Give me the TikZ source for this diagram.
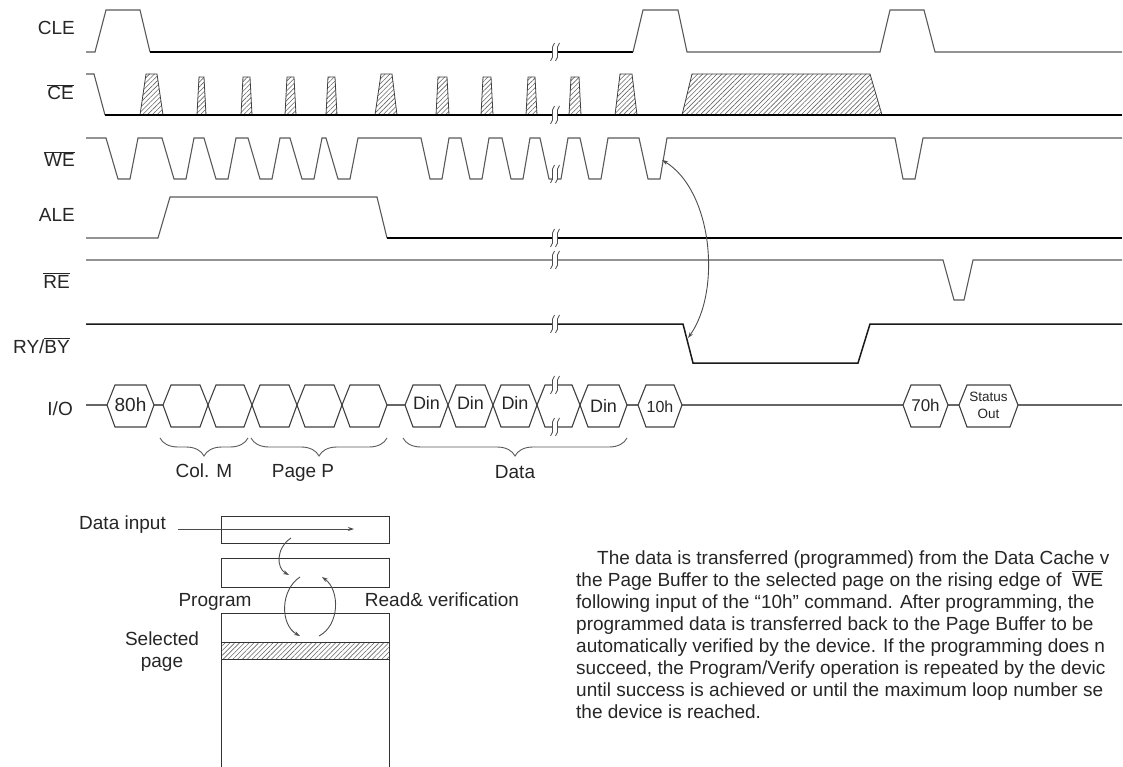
\documentclass[tikz,border=0pt]{standalone}
\usepackage{fontspec}
\setmainfont{Liberation Sans}
\usetikzlibrary{patterns.meta,decorations.pathreplacing,arrows.meta}
\newcommand\ovl[1]{$\overline{\mbox{#1}}$}
\tikzset{
  sig/.style={line width=1.1pt, draw=black!65},
  sigthick/.style={line width=1.9pt, draw=black},
  sigmid/.style={line width=1.5pt, draw=black!90},
  hatch/.style={draw=black!75, line width=0.8pt, pattern={Lines[angle=45,distance=3.4pt,line width=0.6pt]}, pattern color=black!60},
  bus/.style={draw=black!75, line width=1.1pt},
  busline/.style={draw=black!60, line width=1.1pt},
  lab/.style={font=\fontsize{19}{22}\selectfont, inner sep=0pt, text=black!85},
  par/.style={font=\fontsize{19}{22}\selectfont, inner sep=0pt, text=black!85, anchor=base west},
  hext/.style={inner sep=0pt, text=black!85},
  brc/.style={draw=black!65, line width=0.9pt, decorate, decoration={brace, mirror, amplitude=18pt}},
  conn/.style={draw=black!70, line width=0.9pt, -{Stealth[length=6pt,width=4pt]}},
  box/.style={draw=black!80, line width=1pt},
  brk/.pic={
    \fill[white] (-0.5,-9) .. controls (-5.5,-5) and (0.5,5) .. (-4.5,9) -- (0.5,9) .. controls (5.5,5) and (-0.5,-5) .. (4.5,-9) -- cycle;
    \draw[black!70, line width=0.8pt] (-0.5,-9) .. controls (-5.5,-5) and (0.5,5) .. (-4.5,9);
    \draw[black!70, line width=0.8pt] (4.5,-9) .. controls (-0.5,-5) and (5.5,5) .. (0.5,9);
  }
}
\newcommand\hexa[2]{\draw[bus] (#1,405) -- ({#1+8},385) -- ({#2-8},385) -- (#2,405) -- ({#2-8},427) -- ({#1+8},427) -- cycle;}
\begin{document}
\begin{tikzpicture}[x=1pt,y=-1pt]
\useasboundingbox (0,0) rectangle (1123,767);
% ---- labels
\node[lab, anchor=base east] (lCLE) at (75,35) {CLE};
\node[lab, anchor=base east] (lCE) at (74,100) {\ovl{CE}};
\node[lab, anchor=base east] (lWE) at (75,167) {\ovl{WE}};
\node[lab, anchor=base east] (lALE) at (75,222) {ALE};
\node[lab, anchor=base east] (lRE) at (70,288) {\ovl{RE}};
\node[lab, anchor=base east] (lRY) at (70,353) {RY/\ovl{BY}};
\node[lab, anchor=base east] (lIO) at (73,415) {I/O};
% ---- CLE
\draw[sig] (86,52) -- (95,52) -- (106,10) -- (140,10) -- (150,52);
\draw[sigthick] (150,52) -- (633,52);
\draw[sig] (633,52) -- (643,10) -- (678,10) -- (687,52) -- (880,52) -- (890,10) -- (924,10) -- (935,52) -- (1122,52);
% ---- CE
\draw[sig] (86,74) -- (94,74) -- (105,115);
\draw[hatch] (140,115) -- (146,74) -- (157,74) -- (163,115);
\draw[hatch] (197,115) -- (199,77) -- (204,77) -- (206,115);
\draw[hatch] (241,115) -- (243,77) -- (250,77) -- (252,115);
\draw[hatch] (285,115) -- (287,77) -- (294,77) -- (296,115);
\draw[hatch] (326,115) -- (328,77) -- (335,77) -- (337,115);
\draw[hatch] (375,115) -- (381,74) -- (392,74) -- (397,115);
\draw[hatch] (436,115) -- (438,77) -- (447,77) -- (449,115);
\draw[hatch] (481,115) -- (483,77) -- (491,77) -- (493,115);
\draw[hatch] (526,115) -- (528,77) -- (535,77) -- (537,115);
\draw[hatch] (569,115) -- (571,77) -- (579,77) -- (581,115);
\draw[hatch] (615,115) -- (620,74) -- (632,74) -- (637,115);
\draw[hatch] (682,115) -- (692,74) -- (870,74) -- (882,115);
\draw[sigthick] (105,115) -- (1122,115);
% ---- WE
\draw[sig] (86,138) -- (106,138) -- (118,179) -- (130,179) -- (138,138) -- (162,138) -- (174,179) -- (186,179) -- (194,138) -- (204,138) -- (216,179) -- (228,179) -- (236,138) -- (248,138) -- (260,179) -- (272,179) -- (280,138) -- (290,138) -- (302,179) -- (314,179) -- (322,138) -- (326,138) -- (338,179) -- (350,179) -- (358,138) -- (421,138) -- (430,179) -- (442,179) -- (449,138) -- (461,138) -- (470,179) -- (482,179) -- (489,138) -- (502,138) -- (511,179) -- (523,179) -- (530,138) -- (540,138) -- (549,179) -- (561,179) -- (568,138) -- (580,138) -- (589,179) -- (601,179) -- (608,138) -- (639,138) -- (648,179) -- (660,179) -- (667,138) -- (895,138) -- (903,179) -- (915,179) -- (923,138) -- (1122,138);
% ---- ALE
\draw[sig] (86,238) -- (158,238) -- (170,197) -- (377,197) -- (387,238);
\draw[sigthick] (387,238) -- (1122,238);
% ---- RE
\draw[sig] (86,260) -- (943,260) -- (954,300) -- (964,300) -- (973,260) -- (1122,260);
% ---- RY/BY
\draw[sigmid] (86,324) -- (683,324) -- (693,363) -- (858,363) -- (870,324) -- (1122,324);
% ---- I/O
\draw[busline] (86,405) -- (107,405);
\draw[busline] (154,405) -- (163,405);
\draw[busline] (387,405) -- (405,405);
\draw[busline] (627,405) -- (638,405);
\draw[busline] (682,405) -- (903,405);
\draw[busline] (948,405) -- (959,405);
\draw[busline] (1018,405) -- (1122,405);
\hexa{107}{154}
\hexa{163}{208}\hexa{208}{252}\hexa{252}{297}\hexa{297}{342}\hexa{342}{387}
\hexa{405}{448}\hexa{448}{493}\hexa{493}{537}\hexa{537}{580}\hexa{580}{627}
\hexa{638}{682}
\hexa{903}{948}
\hexa{959}{1018}
\node[hext, font=\fontsize{19}{20}\selectfont] (t80) at (130.5,405) {80h};
\node[hext, font=\fontsize{18}{20}\selectfont] (d1) at (426.5,403) {Din};
\node[hext, font=\fontsize{18}{20}\selectfont] (d2) at (470.5,403) {Din};
\node[hext, font=\fontsize{18}{20}\selectfont] (d3) at (515,403) {Din};
\node[hext, font=\fontsize{18}{20}\selectfont] (d4) at (603.5,406) {Din};
\node[hext, font=\fontsize{16}{18}\selectfont] (t10) at (660,407) {10h};
\node[hext, font=\fontsize{17}{18}\selectfont] (t70) at (925.5,405) {70h};
\node[hext, font=\fontsize{13.5}{17}\selectfont, align=center] (tst) at (988.5,405) {Status\\Out};
% ---- break marks
\foreach \yy in {52,115,174,238,260,324,385,427} {\pic at (555,\yy) {brk};}
% ---- braces
\draw[brc] (160,438) -- (248,438);
\draw[brc] (251,438) -- (387,438);
\draw[brc] (403,438) -- (627,438);
\node[lab, anchor=base] (bCol) at (204,477) {Col. M};
\node[lab, anchor=base] (bPage) at (303,477) {Page P};
\node[lab, anchor=base] (bData) at (515,478) {Data};
% ---- WE -> RY/BY arrow
\coordinate (weR) at (662,160);
\coordinate (ryF) at (688,338);
\draw[draw=black!70, line width=0.9pt, {Stealth[length=6pt,width=4pt]}-{Stealth[length=6pt,width=4pt]}] (weR) .. controls (712,190) and (722,290) .. (ryF);
% ---- bottom-left memory diagram
\draw[box] (221,516) rectangle (389,543);
\draw[box] (221,558) rectangle (389,587);
\draw[box] (221,767) -- (221,613) -- (389,613) -- (389,767);
\draw[box, pattern={Lines[angle=45,distance=3.4pt,line width=0.6pt]}, pattern color=black!60] (221,642) rectangle (389,659);
\node[lab, anchor=base west] (tDI) at (79,529) {Data input};
\coordinate (di1) at (178,529);
\coordinate (di2) at (354,529);
\draw[conn] (di1) -- (di2);
\coordinate (a1s) at (291,538);
\coordinate (a1e) at (289,575);
\draw[conn] (a1s) .. controls (276,548) and (276,568) .. (a1e);
\coordinate (pgs) at (300,577);
\coordinate (pge) at (300,636);
\draw[conn] (pgs) .. controls (280,590) and (280,625) .. (pge);
\coordinate (rvs) at (319,636);
\coordinate (rve) at (322,577);
\draw[conn] (rvs) .. controls (340,625) and (340,590) .. (rve);
\node[lab, anchor=base] (tPg) at (215,606) {Program};
\node[lab, anchor=base] (tRV) at (442,606) {Read\& verification};
\node[lab, anchor=base] (tSel) at (162,645) {Selected};
\node[lab, anchor=base] (tPage) at (162,667) {page};
% ---- paragraph
\node[par] (p1) at (597,564) {The data is transferred (programmed) from the Data Cache v};
\node[par] (p2) at (576,586) {the Page Buffer to the selected page on the rising edge of\ \ \ovl{WE}};
\node[par] (p3) at (576,608) {following input of the “10h” command. After programming, the};
\node[par] (p4) at (576,630) {programmed data is transferred back to the Page Buffer to be};
\node[par] (p5) at (576,652) {automatically verified by the device. If the programming does n};
\node[par] (p6) at (576,674) {succeed, the Program/Verify operation is repeated by the devic};
\node[par] (p7) at (576,696) {until success is achieved or until the maximum loop number se};
\node[par] (p8) at (576,718) {the device is reached.};
\end{tikzpicture}
\end{document}
